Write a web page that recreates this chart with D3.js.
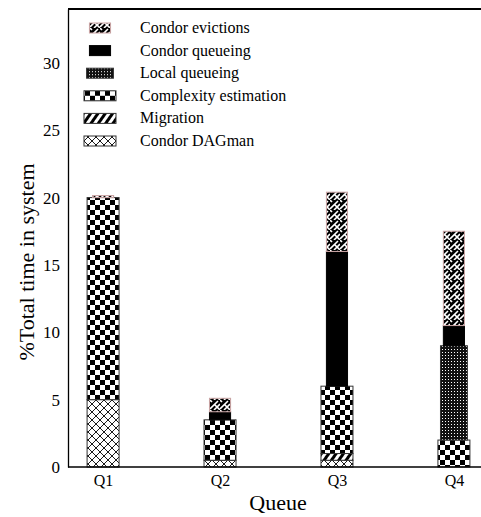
<!DOCTYPE html>
<html>
<head>
<meta charset="utf-8">
<script src="https://cdn.jsdelivr.net/npm/d3@7"></script>
<style>
  body { margin: 0; background: #fff; }
  svg text { font-family: "Liberation Serif", "DejaVu Serif", serif !important; }
</style>
</head>
<body>
<svg id="chart"></svg>
<script>
// data
const queues = ["Q1", "Q2", "Q3", "Q4"];
const seriesNames = ["Condor DAGman", "Migration", "Complexity estimation", "Local queueing", "Condor queueing", "Condor evictions"];
const dagman = [5, 0.5, 0.5, 0];
const migration = [0, 0, 0.5, 0];
const complexity = [15, 3, 5, 2];
const localQueueing = [0, 0, 0, 7];
const condorQueueing = [0, 0.6, 10, 1.5];
const evictions = [0.15, 1.0, 4.4, 7];
const yTicks = [0, 5, 10, 15, 20, 25, 30];

const width = 481, height = 517;
const margin = { top: 9, left: 68, bottom: 50 };
const barWidth = 32;

const svg = d3.select("#chart")
    .attr("width", width)
    .attr("height", height);

// fill patterns and widths per layer
const defs = svg.append("defs");

function pattern(id, w, h, bg) {
    const p = defs.append("pattern")
        .attr("id", id)
        .attr("patternUnits", "userSpaceOnUse")
        .attr("width", w)
        .attr("height", h);
    p.append("rect").attr("width", w).attr("height", h).attr("fill", bg);
    return p;
}

// crosshatch
const pDag = pattern("p-dag", 8, 8, "#fff");
pDag.append("path").attr("d", "M0,0 L8,8 M8,0 L0,8").attr("stroke", "#000").attr("stroke-width", 0.9);

// diagonal stripes
const pMig = pattern("p-mig", 6, 6, "#fff").attr("patternTransform", "rotate(35)");
pMig.append("rect").attr("width", 3).attr("height", 6).attr("fill", "#000");

// checkerboard
const pChk = pattern("p-chk", 10, 10, "#fff");
pChk.append("rect").attr("width", 5).attr("height", 5).attr("fill", "#000");
pChk.append("rect").attr("x", 5).attr("y", 5).attr("width", 5).attr("height", 5).attr("fill", "#000");

// dense dots
const pLoc = pattern("p-loc", 3, 3, "#111");
pLoc.append("rect").attr("x", 1).attr("y", 1).attr("width", 1).attr("height", 1).attr("fill", "#fff");

// weave
const pEv = pattern("p-ev", 10, 10, "#000");
pEv.append("path")
    .attr("d", "M0,9 L8,1 M5,5 L10,10 M0,0 L2,2 M4,10 L10,4")
    .attr("stroke", "#fff").attr("stroke-width", 1.6);

const layerStyle = {
    "Condor DAGman": { fill: "url(#p-dag)", w: 1, stroke: "#333" },
    "Migration": { fill: "url(#p-mig)", w: 1, stroke: "#333" },
    "Complexity estimation": { fill: "url(#p-chk)", w: 1, stroke: "#333" },
    "Local queueing": { fill: "url(#p-loc)", w: 0.84, stroke: "#333" },
    "Condor queueing": { fill: "#000", w: 0.66, stroke: "#000" },
    "Condor evictions": { fill: "url(#p-ev)", w: 0.66, stroke: "#c9a3a3" },
};

const table = queues.map((q, i) => ({
    queue: q,
    "Condor DAGman": dagman[i],
    "Migration": migration[i],
    "Complexity estimation": complexity[i],
    "Local queueing": localQueueing[i],
    "Condor queueing": condorQueueing[i],
    "Condor evictions": evictions[i],
}));

const stacked = d3.stack().keys(seriesNames)(table);

const x = d3.scalePoint()
    .domain(queues)
    .range([margin.left, 489])
    .padding(0.3);

const y = d3.scaleLinear()
    .domain([0, 34])
    .range([height - margin.bottom, margin.top]);

// bars
svg.append("g")
    .selectAll("g")
    .data(stacked)
    .join("g")
    .each(function (layer) {
        const st = layerStyle[layer.key];
        const w = barWidth * st.w;
        d3.select(this).selectAll("rect")
            .data(layer.filter(d => d[1] - d[0] > 0))
            .join("rect")
            .attr("x", d => x(d.data.queue) - w / 2)
            .attr("y", d => y(d[1]))
            .attr("width", w)
            .attr("height", d => y(d[0]) - y(d[1]))
            .attr("fill", st.fill)
            .attr("stroke", st.stroke)
            .attr("stroke-width", 1);
    });

// axes
svg.append("g")
    .attr("transform", `translate(${margin.left},0)`)
    .call(d3.axisLeft(y).tickValues(yTicks).tickSize(0).tickPadding(8))
    .call(g => g.select(".domain").attr("stroke-width", 1.3))
    .selectAll("text")
    .attr("font-size", 17)
    .attr("fill", "#000");

svg.append("g")
    .attr("transform", `translate(0,${height - margin.bottom})`)
    .call(d3.axisBottom(x).tickSize(0).tickPadding(8))
    .call(g => g.select(".domain").attr("d", `M${margin.left},0H${width}`).attr("stroke-width", 1.3))
    .selectAll("text")
    .attr("font-size", 16)
    .attr("fill", "#000");

// top frame line
svg.append("line")
    .attr("x1", margin.left).attr("x2", width)
    .attr("y1", margin.top).attr("y2", margin.top)
    .attr("stroke", "#000").attr("stroke-width", 2);

// axis titles
svg.append("text")
    .attr("x", 278)
    .attr("y", 510)
    .attr("text-anchor", "middle")
    .attr("font-size", 22)
    .text("Queue");

svg.append("text")
    .attr("transform", "translate(34,262) rotate(-90)")
    .attr("text-anchor", "middle")
    .attr("font-size", 22)
    .text("%Total time in system");

// legend, top entry first
const legendOrder = seriesNames.slice().reverse();
const legend = svg.append("g")
    .selectAll("g")
    .data(legendOrder)
    .join("g")
    .attr("transform", (d, i) => `translate(100,${28 + i * 22.6})`);

legend.append("rect")
    .attr("x", d => -barWidth * layerStyle[d].w / 2)
    .attr("y", -5)
    .attr("width", d => barWidth * layerStyle[d].w)
    .attr("height", 10)
    .attr("fill", d => layerStyle[d].fill)
    .attr("stroke", d => layerStyle[d].stroke);

legend.append("text")
    .attr("x", 40)
    .attr("y", 5)
    .attr("font-size", 16)
    .text(d => d);
</script>
</body>
</html>
